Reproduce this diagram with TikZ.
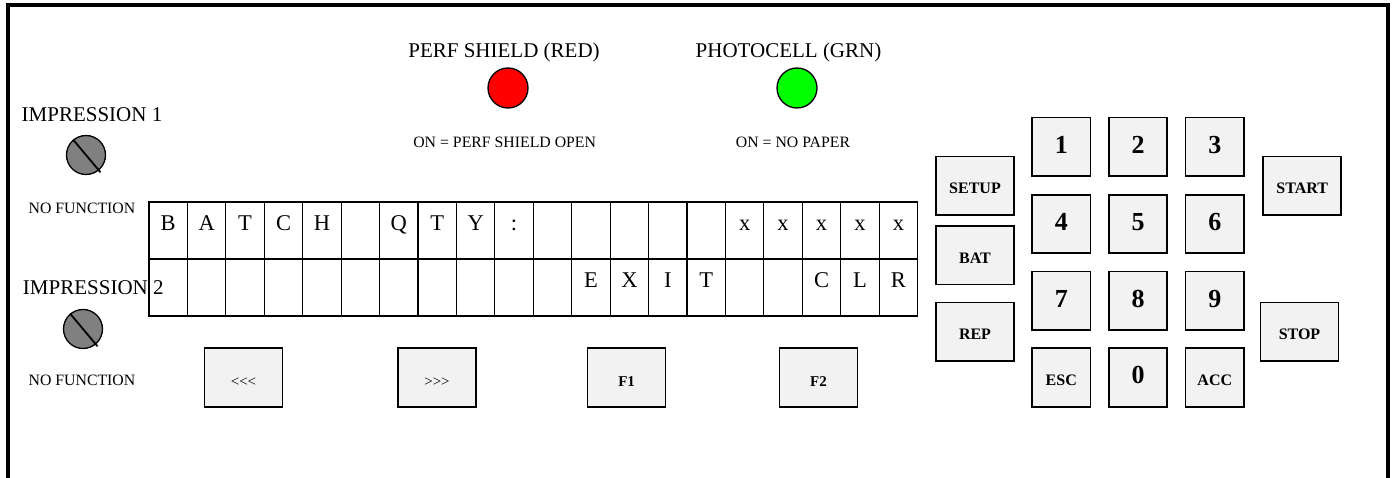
\documentclass[tikz,border=0pt]{standalone}
\usepackage{fontspec}
\setmainfont{Liberation Serif}
\definecolor{key_gray}{RGB}{242, 242, 242}
\definecolor{knob_gray}{RGB}{128, 128, 128}
\definecolor{led_red}{RGB}{255, 0, 0}
\definecolor{led_green}{RGB}{0, 255, 0}
\tikzstyle{cell}=[rectangle,draw=black,line width=1.2pt,inner sep=0pt,
  minimum width=38.43pt,minimum height=57pt,
  font=\fontsize{22.5}{27}\selectfont,text height=8pt,text depth=8pt]
\tikzstyle{key}=[rectangle,draw=black,fill=key_gray,line width=1.6pt,
  inner sep=0pt,minimum width=58.5pt,minimum height=58.5pt]
\tikzstyle{numkey}=[key,font=\fontsize{26}{30}\selectfont\bfseries,
  text height=18pt,text depth=5pt]
\tikzstyle{fnkey}=[key,font=\fontsize{16}{19}\selectfont\bfseries,
  text height=16pt,text depth=0pt]
\tikzstyle{widekey}=[fnkey,minimum width=78pt,minimum height=58.3pt]
\tikzstyle{softkey}=[key,minimum width=78pt,minimum height=58.6pt,
  font=\fontsize{15}{18}\selectfont,text height=18pt,text depth=0pt]
\tikzstyle{led}=[circle,draw=black,line width=1.3pt,inner sep=0pt,minimum size=40pt]
\tikzstyle{knob}=[circle,draw=black,fill=knob_gray,line width=1.3pt,inner sep=0pt,minimum size=39pt]
\tikzstyle{big}=[anchor=base,font=\fontsize{21}{25}\selectfont]
\tikzstyle{small}=[anchor=base,font=\fontsize{15.8}{19}\selectfont]

\begin{document}
\begin{tikzpicture}[x=1pt,y=-1pt]
        \useasboundingbox (0,0) rectangle (1393,478);
        \draw [line width=4pt] (8,478) -- (8,5) -- (1388,5) -- (1388,478);
        % indicator lights
        \node [style=big] (perf) at (504,57.3) {PERF SHIELD (RED)};
        \node [style=big] (photo) at (788.5,57.3) {PHOTOCELL (GRN)};
        \node [style=led,fill=led_red] (red) at (508,88) {};
        \node [style=led,fill=led_green] (green) at (797,88) {};
        \node [style=small] (perfon) at (504.7,147.3) {ON = PERF SHIELD OPEN};
        \node [style=small] (photoon) at (793,147.3) {ON = NO PAPER};
        % display
        \foreach \ch [count=\i from 0] in {B,A,T,C,H,{},Q,T,Y,:,{},{},{},{},{},x,x,x,x,x}
            \node [style=cell] (t\i) at (149+38.43*\i+19.215,230.5) {\ch};
        \foreach \ch [count=\i from 0] in {{},{},{},{},{},{},{},{},{},{},{},E,X,I,T,{},{},C,L,R}
            \node [style=cell] (b\i) at (149+38.43*\i+19.215,287.5) {\ch};
        % impression knobs
        \node [style=big] (imp1) at (92,121.7) {IMPRESSION 1};
        \node [style=knob] (k1) at (86,155) {};
        \draw [line width=1.8pt,shorten >=-2.5pt] (k1.130) to (k1.-50);
        \node [style=small] (nf1) at (82,214) {NO FUNCTION};
        \node [style=big] (imp2) at (93.3,295) {IMPRESSION 2};
        \node [style=knob] (k2) at (83,329) {};
        \draw [line width=1.8pt,shorten >=-2.5pt] (k2.130) to (k2.-50);
        \node [style=small] (nf2) at (82,386) {NO FUNCTION};
        % soft keys
        \node [style=softkey] (left) at (243.5,377.5) {<{}<{}<};
        \node [style=softkey] (right) at (437,377.5) {>{}>{}>};
        \node [style=softkey,font=\fontsize{15}{18}\selectfont\bfseries] (f1) at (626.6,377.5) {F1};
        \node [style=softkey,font=\fontsize{15}{18}\selectfont\bfseries] (f2) at (818.5,377.5) {F2};
        % keypad
        \node [style=widekey] (setup) at (975,185.8) {SETUP};
        \node [style=widekey] (bat) at (975,255.2) {BAT};
        \node [style=widekey] (rep) at (975,331.8) {REP};
        \node [style=numkey] (n1) at (1061.3,146.8) {1};
        \node [style=numkey] (n2) at (1138,146.8) {2};
        \node [style=numkey] (n3) at (1214.8,146.8) {3};
        \node [style=numkey] (n4) at (1061.3,224) {4};
        \node [style=numkey] (n5) at (1138,224) {5};
        \node [style=numkey] (n6) at (1214.8,224) {6};
        \node [style=numkey] (n7) at (1061.3,300.8) {7};
        \node [style=numkey] (n8) at (1138,300.8) {8};
        \node [style=numkey] (n9) at (1214.8,300.8) {9};
        \node [style=fnkey] (esc) at (1061.3,377.5) {ESC};
        \node [style=numkey] (n0) at (1138,377.5) {0};
        \node [style=fnkey] (acc) at (1214.8,377.5) {ACC};
        \node [style=widekey] (start) at (1302.2,185.8) {START};
        \node [style=widekey] (stop) at (1299.5,331.8) {STOP};
    \end{tikzpicture}
\end{document}
